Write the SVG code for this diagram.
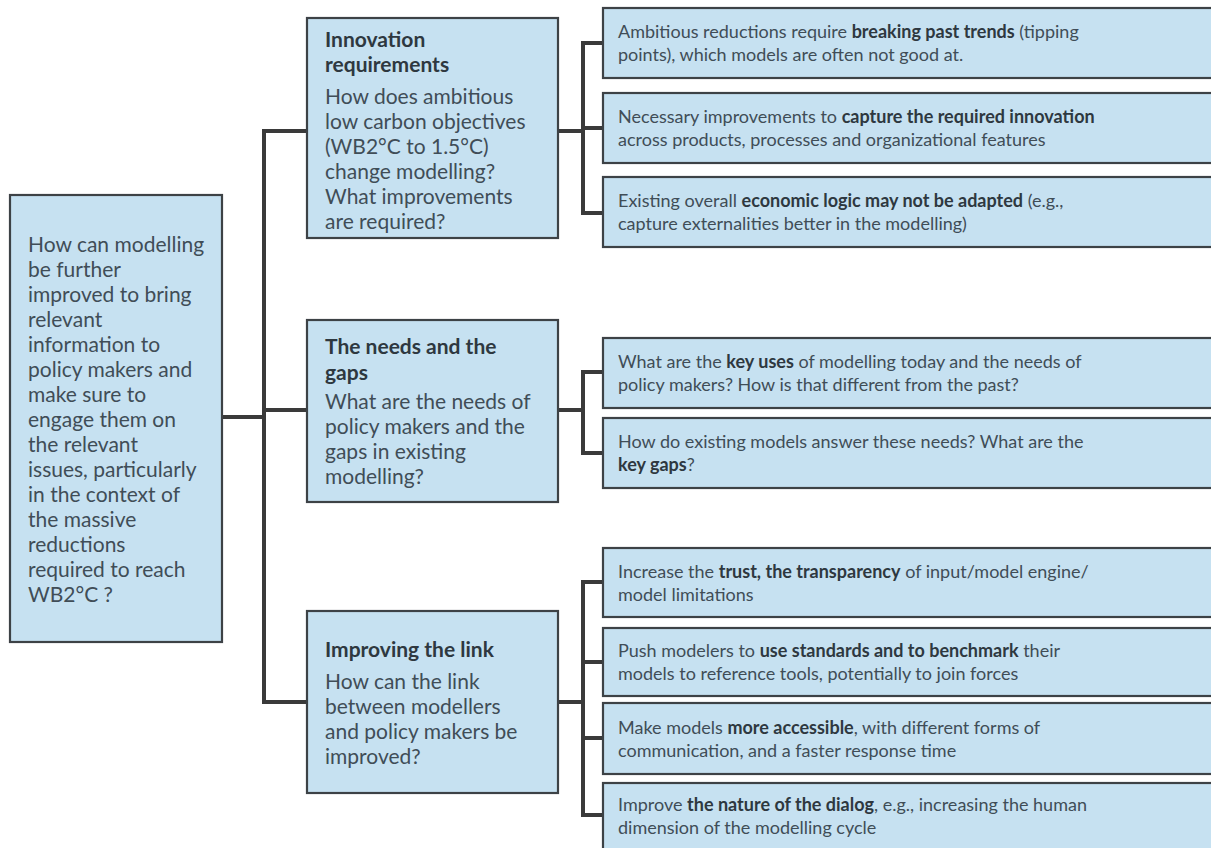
<svg xmlns="http://www.w3.org/2000/svg" width="1211" height="848" viewBox="0 0 1211 848">
<style>
.box{fill:#c6e1f1;stroke:#3d4246;stroke-width:2.2}
.con{fill:none;stroke:#3a3a3a;stroke-width:4;stroke-linecap:square;stroke-linejoin:miter}
text{font-family:Lato,"Liberation Sans",sans-serif;fill:#404d57}
.l{font-size:21px}
.m{font-size:21px}
.r{font-size:18px}
.b{font-weight:bold;fill:#2e3840}
</style>
<rect width="1211" height="848" fill="#ffffff"/>
<g id="connectors">
<path class="con" d="M222,417 H264 M264,131 V702 M264,131 H307 M264,410 H307 M264,702 H307"/>
<path class="con" d="M558,131 H583 M583,43 V213 M583,43 H603 M583,128 H603 M583,213 H603"/>
<path class="con" d="M558,410 H583 M583,372 V453 M583,372 H603 M583,453 H603"/>
<path class="con" d="M558,702 H583 M583,582 V815 M583,582 H603 M583,662 H603 M583,738 H603 M583,815 H603"/>
</g>
<g id="root">
<rect class="box" x="10" y="195" width="212" height="447"/>
<text class="l" x="28"><tspan x="28" y="252">How can modelling</tspan><tspan x="28" y="277">be further</tspan><tspan x="28" y="302">improved to bring</tspan><tspan x="28" y="327">relevant</tspan><tspan x="28" y="352">information to</tspan><tspan x="28" y="377">policy makers and</tspan><tspan x="28" y="402">make sure to</tspan><tspan x="28" y="427">engage them on</tspan><tspan x="28" y="452">the relevant</tspan><tspan x="28" y="477">issues, particularly</tspan><tspan x="28" y="502">in the context of</tspan><tspan x="28" y="527">the massive</tspan><tspan x="28" y="552">reductions</tspan><tspan x="28" y="577">required to reach</tspan><tspan x="28" y="602">WB2°C ?</tspan></text>
</g>
<g id="innovation">
<rect class="box" x="307" y="18" width="251" height="220"/>
<text class="m b" x="325" y="47">Innovation</text>
<text class="m b" x="325" y="72">requirements</text>
<text class="m"><tspan x="325" y="104">How does ambitious</tspan><tspan x="325" y="129">low carbon objectives</tspan><tspan x="325" y="154">(WB2°C to 1.5°C)</tspan><tspan x="325" y="179">change modelling?</tspan><tspan x="325" y="204">What improvements</tspan><tspan x="325" y="229">are required?</tspan></text>
</g>
<g id="needs">
<rect class="box" x="307" y="320" width="251" height="182"/>
<text class="m b" x="325" y="354">The needs and the</text>
<text class="m b" x="325" y="380">gaps</text>
<text class="m"><tspan x="325" y="409">What are the needs of</tspan><tspan x="325" y="434">policy makers and the</tspan><tspan x="325" y="459">gaps in existing</tspan><tspan x="325" y="484">modelling?</tspan></text>
</g>
<g id="link">
<rect class="box" x="307" y="611" width="251" height="182"/>
<text class="m b" x="325" y="657">Improving the link</text>
<text class="m"><tspan x="325" y="689">How can the link</tspan><tspan x="325" y="714">between modellers</tspan><tspan x="325" y="739">and policy makers be</tspan><tspan x="325" y="764">improved?</tspan></text>
</g>
<g id="r1">
<rect class="box" x="603" y="8" width="620" height="70"/>
<text class="r" x="618" y="38">Ambitious reductions require <tspan class="b">breaking past trends</tspan> (tipping</text>
<text class="r" x="618" y="61">points), which models are often not good at.</text>
</g>
<g id="r2">
<rect class="box" x="603" y="93" width="620" height="70"/>
<text class="r" x="618" y="123">Necessary improvements to <tspan class="b">capture the required innovation</tspan></text>
<text class="r" x="618" y="146">across products, processes and organizational features</text>
</g>
<g id="r3">
<rect class="box" x="603" y="177" width="620" height="70"/>
<text class="r" x="618" y="207">Existing overall <tspan class="b">economic logic may not be adapted</tspan> (e.g.,</text>
<text class="r" x="618" y="230">capture externalities better in the modelling)</text>
</g>
<g id="r4">
<rect class="box" x="603" y="338" width="620" height="70"/>
<text class="r" x="618" y="368">What are the <tspan class="b">key uses</tspan> of modelling today and the needs of</text>
<text class="r" x="618" y="391">policy makers? How is that different from the past?</text>
</g>
<g id="r5">
<rect class="box" x="603" y="418" width="620" height="70"/>
<text class="r" x="618" y="448">How do existing models answer these needs? What are the</text>
<text class="r" x="618" y="471"><tspan class="b">key gaps</tspan>?</text>
</g>
<g id="r6">
<rect class="box" x="603" y="548" width="620" height="69"/>
<text class="r" x="618" y="578">Increase the <tspan class="b">trust, the transparency</tspan> of input/model engine/</text>
<text class="r" x="618" y="601">model limitations</text>
</g>
<g id="r7">
<rect class="box" x="603" y="628" width="620" height="68"/>
<text class="r" x="618" y="657">Push modelers to <tspan class="b">use standards and to benchmark</tspan> their</text>
<text class="r" x="618" y="680">models to reference tools, potentially to join forces</text>
</g>
<g id="r8">
<rect class="box" x="603" y="703" width="620" height="71"/>
<text class="r" x="618" y="734">Make models <tspan class="b">more accessible</tspan>, with different forms of</text>
<text class="r" x="618" y="757">communication, and a faster response time</text>
</g>
<g id="r9">
<rect class="box" x="603" y="783" width="620" height="80"/>
<text class="r" x="618" y="811">Improve <tspan class="b">the nature of the dialog</tspan>, e.g.,  increasing the human</text>
<text class="r" x="618" y="834">dimension of the modelling cycle</text>
</g>
</svg>
